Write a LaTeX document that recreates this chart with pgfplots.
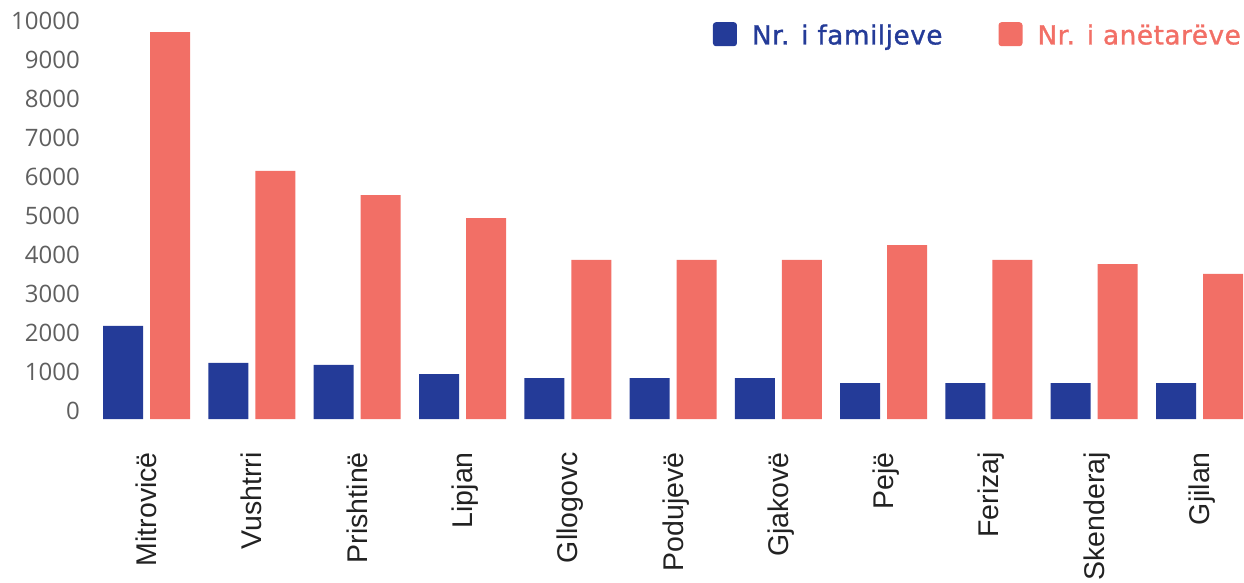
\documentclass[border=0pt]{standalone}
\usepackage{pgfplots}
\pgfplotsset{compat=1.18}
\usepackage{fontspec}
\setmainfont{Liberation Sans}
\newfontfamily\tickfont{Open Sans}
\newfontfamily\legendfont[LetterSpace=2,FakeBold=1.2]{DejaVu Sans}

\definecolor{famblue}{RGB}{36,59,152}
\definecolor{memred}{RGB}{242,111,102}
\definecolor{tickgray}{RGB}{95,95,95}
\definecolor{catblack}{RGB}{34,34,34}

\begin{document}
\begin{tikzpicture}
\path[use as bounding box] (0,0) rectangle (1244pt,582pt);
\begin{axis}[
  at={(94pt,163pt)}, anchor=south west,
  scale only axis, width=1150pt, height=390pt,
  xmin=-0.5, xmax=10.4226,
  ymin=0, ymax=10000,
  axis line style={draw=none},
  tick style={draw=none},
  major tick length=0pt,
  xtick={0,...,10},
  xticklabels={Mitrovicë,Vushtrri,Prishtinë,Lipjan,Gllogovc,Podujevë,Gjakovë,Pejë,Ferizaj,Skenderaj,Gjilan},
  xticklabel style={rotate=90, anchor=east, inner sep=0pt,
    text height=20pt, text depth=0pt,
    font=\fontsize{28.5}{30}\selectfont, text=catblack},
  xticklabel shift=33pt,
  ytick={0,1000,...,10000},
  scaled y ticks=false,
  /pgf/number format/assume math mode=true,
  /pgf/number format/1000 sep={},
  yticklabel style={anchor=base east, inner sep=0pt,
    font=\tickfont\fontsize{24}{26}\selectfont, text=tickgray},
  yticklabel shift=14pt,
  legend columns=2,
  legend style={at={(1,1)}, anchor=north east, xshift=-3pt, yshift=7pt,
    draw=none, fill=none, inner sep=0pt,
    font=\legendfont\fontsize{26.3}{28}\selectfont,
    nodes={inner sep=0pt},
    column sep=15pt,
    /tikz/every even column/.append style={column sep=56pt}},
  legend cell align=left,
]
\addplot[ybar, bar width=40pt, bar shift=-23.5pt, fill=famblue, draw=none,
  legend image code/.code={\fill[famblue, rounded corners=3pt] (0pt,-11pt) rectangle (24pt,13pt);}]
  coordinates {
  (0,2390) (1,1440) (2,1390) (3,1150) (4,1050) (5,1050)
  (6,1050) (7,920) (8,920) (9,920) (10,920)
};
\addlegendentry{\textcolor{famblue}{Nr. i familjeve}}
\addplot[ybar, bar width=40pt, bar shift=23.5pt, fill=memred, draw=none,
  legend image code/.code={\fill[memred, rounded corners=3pt] (0pt,-11pt) rectangle (24pt,13pt);}]
  coordinates {
  (0,9920) (1,6360) (2,5740) (3,5150) (4,4080) (5,4080)
  (6,4080) (7,4460) (8,4080) (9,3970) (10,3720)
};
\addlegendentry{\textcolor{memred}{Nr. i anëtarëve}}
\end{axis}
\end{tikzpicture}
\end{document}
